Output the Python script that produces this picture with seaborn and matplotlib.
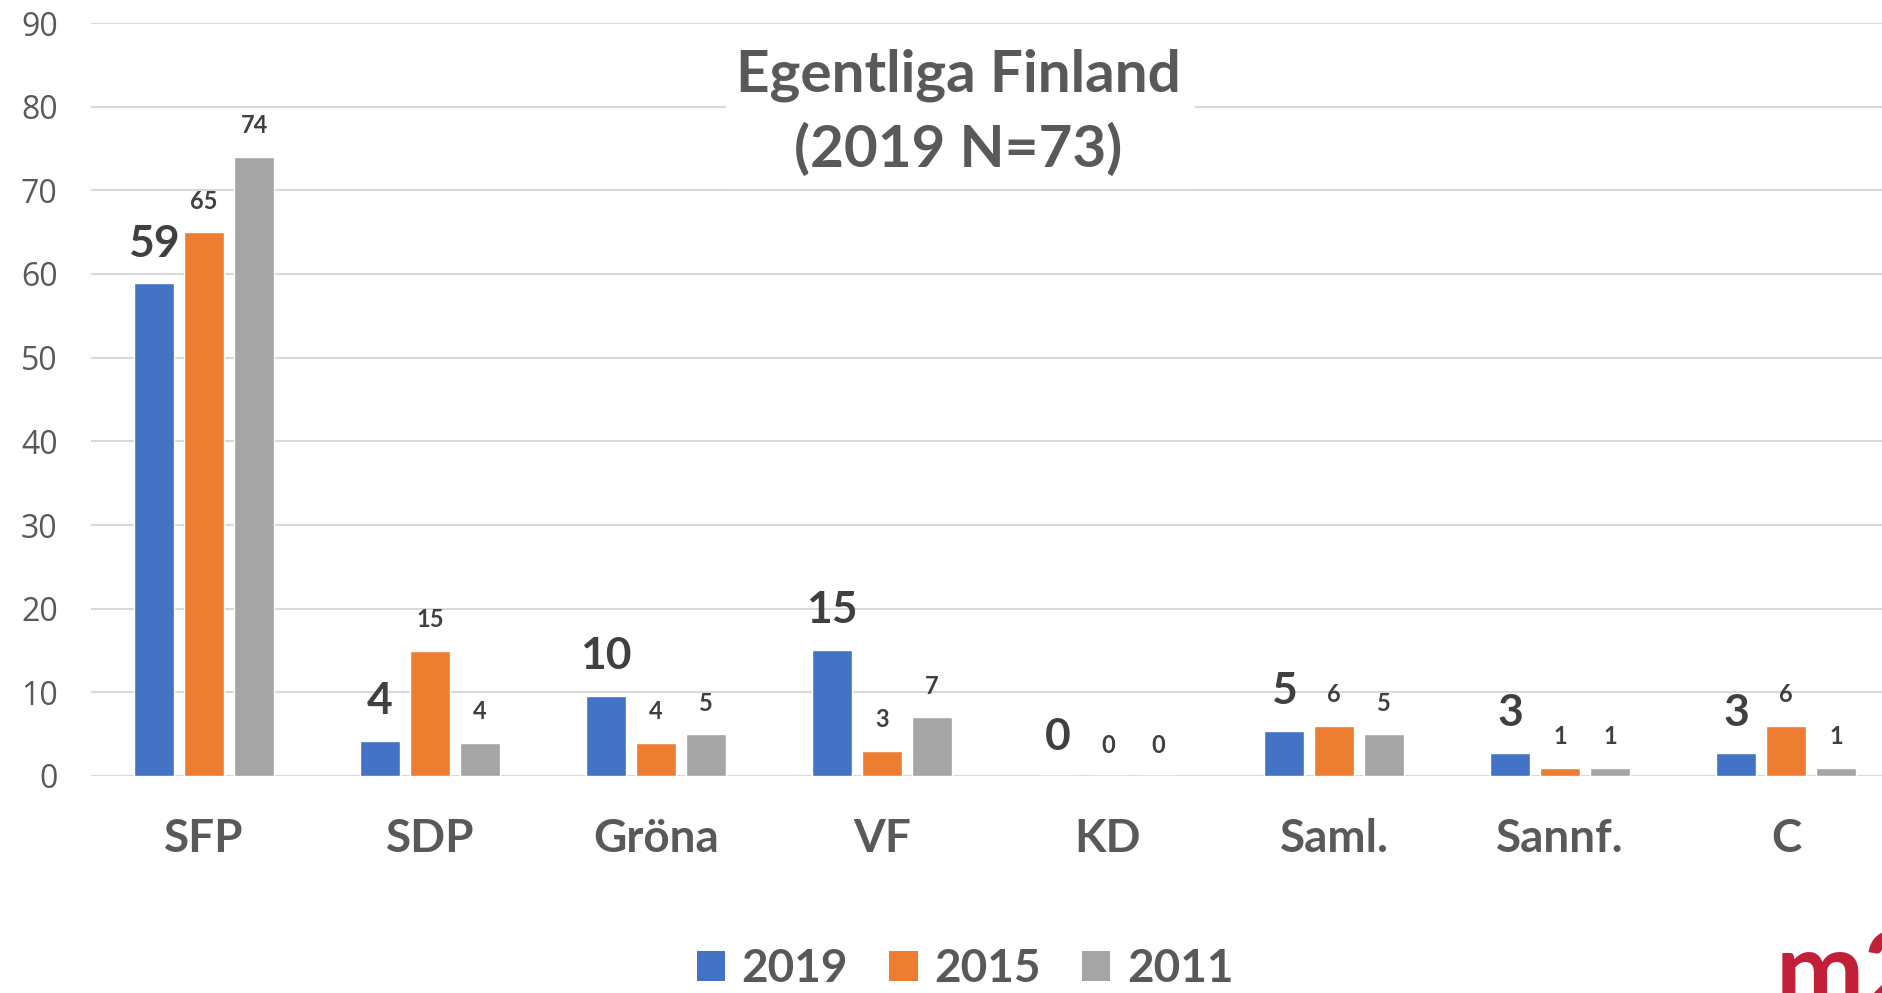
import seaborn as sns
import pandas as pd
import numpy as np
import matplotlib.pyplot as plt
from matplotlib.patches import Rectangle

# Data
partier = ["SFP", "SDP", "Gröna", "VF", "KD", "Saml.", "Sannf.", "C"]
ar = ["2019", "2015", "2011"]
varden_2019 = [58.9, 4.2, 9.6, 15.1, 0, 5.4, 2.8, 2.8]
varden_2015 = [65, 15, 4, 3, 0, 6, 1, 6]
varden_2011 = [74, 4, 5, 7, 0, 5, 1, 1]
y_ticks = [0, 10, 20, 30, 40, 50, 60, 70, 80, 90]

farger = ["#4472C4", "#ED7D31", "#A5A5A5"]
gra_text = "#595959"
mork_text = "#404040"

sns.set_style("white")
plt.rcParams['font.family'] = ['Lato', 'DejaVu Sans']

df = pd.DataFrame({
    "parti": partier * 3,
    "ar": [ar[0]] * 8 + [ar[1]] * 8 + [ar[2]] * 8,
    "andel": varden_2019 + varden_2015 + varden_2011,
})

W, H = 1883, 993
fig = plt.figure(figsize=(W / 100, H / 100), dpi=100)
# axes reaches a bit past the right edge, like the cropped original
ax = fig.add_axes([91 / W, 217 / H, 1808 / W, 753 / H])

sns.barplot(data=df, x="parti", y="andel", hue="ar", hue_order=ar, order=partier,
            palette=farger, width=0.664, gap=0.2, saturation=1, ax=ax, legend=False)

ax.set_ylim(0, 90)
ax.set_xlim(-0.5, 7.5)
ax.set_yticks(y_ticks)
ax.grid(axis='y', color="#D9D9D9", linewidth=1.5)
ax.set_axisbelow(True)
for s in ax.spines.values():
    s.set_visible(False)
ax.set_xlabel("")
ax.set_ylabel("")
ax.tick_params(axis='y', length=0, pad=24, labelsize=23, labelcolor=gra_text)
ax.tick_params(axis='x', length=0, pad=30, labelsize=33, labelcolor=gra_text)
for lab in ax.get_yticklabels():
    lab.set_fontfamily('Open Sans')
for lab in ax.get_xticklabels():
    lab.set_fontweight('bold')

# data labels, 2019 larger
for i, cont in enumerate(ax.containers):
    storlek = 32 if i == 0 else 17
    for bar in cont:
        h = bar.get_height()
        ax.annotate(f"{h:.0f}", (bar.get_x() + bar.get_width() / 2, h),
                    xytext=(0, 14), textcoords="offset points", ha='center', va='bottom',
                    fontsize=storlek, fontweight='bold', color=mork_text)

# title with white box over the gridlines
fig.patches.append(Rectangle((726 / W, 1 - 189 / H), 469 / W, 159 / H, transform=fig.transFigure,
                             facecolor='white', edgecolor='none', zorder=2))
fig.text(958 / W, 1 - 92 / H, "Egentliga Finland", ha='center', va='baseline',
         fontsize=42, fontweight='bold', color=gra_text, zorder=3)
fig.text(958 / W, 1 - 167 / H, "(2019 N=73)", ha='center', va='baseline',
         fontsize=42, fontweight='bold', color=gra_text, zorder=3)

# legend
handles = [Rectangle((0, 0), 1, 1, facecolor=c, edgecolor='none') for c in farger]
fig.legend(handles, ar, loc='center', bbox_to_anchor=(965 / W, 24 / H), ncol=3, frameon=False,
           handlelength=0.62, handleheight=0.62, handletextpad=0.36, columnspacing=0.9,
           prop={'family': 'Lato', 'weight': 'bold', 'size': 33}, labelcolor=gra_text)

# logo, cut off at the corner like in the original
fig.text(1776 / W, -14 / H, "m2", ha='left', va='baseline', fontsize=76, fontweight='bold',
         color="#C21F39")

fig.savefig("out.png", dpi=100)
